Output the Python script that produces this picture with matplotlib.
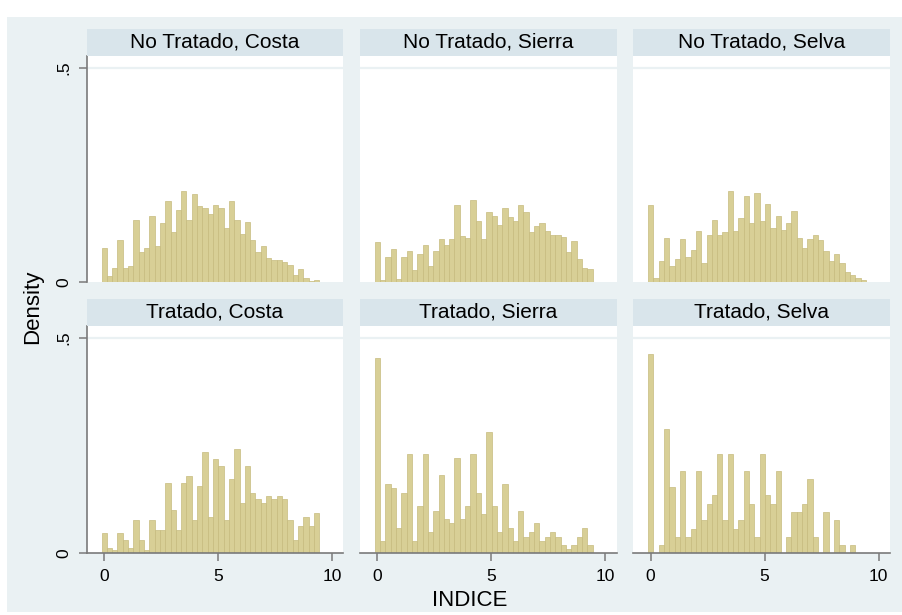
import numpy as np
import matplotlib
matplotlib.use("Agg")
import matplotlib.pyplot as plt
from matplotlib.patches import Rectangle

plt.rcParams['font.family'] = ['Liberation Sans', 'DejaVu Sans']

# histogram bins shared by all panels
bin_start = -0.11
bin_width = 0.233
n_bins = 41

titles = ["No Tratado, Costa", "No Tratado, Sierra", "No Tratado, Selva",
          "Tratado, Costa", "Tratado, Sierra", "Tratado, Selva"]

nt_costa = [0.080, 0.015, 0.034, 0.098, 0.033, 0.039, 0.144, 0.070, 0.080, 0.154,
            0.084, 0.138, 0.189, 0.118, 0.169, 0.212, 0.144, 0.206, 0.178, 0.174,
            0.160, 0.180, 0.174, 0.126, 0.190, 0.146, 0.112, 0.141, 0.098, 0.071,
            0.084, 0.057, 0.052, 0.051, 0.048, 0.041, 0.016, 0.031, 0.009, 0.003,
            0.005]
nt_sierra = [0.094, 0.006, 0.058, 0.077, 0.008, 0.060, 0.072, 0.028, 0.066, 0.088,
             0.038, 0.072, 0.101, 0.088, 0.100, 0.180, 0.108, 0.104, 0.192, 0.143,
             0.100, 0.164, 0.154, 0.134, 0.174, 0.151, 0.143, 0.181, 0.164, 0.118,
             0.132, 0.138, 0.120, 0.111, 0.111, 0.106, 0.071, 0.097, 0.054, 0.034,
             0.031]
nt_selva = [0.180, 0.011, 0.049, 0.104, 0.038, 0.055, 0.101, 0.060, 0.075, 0.120,
            0.045, 0.109, 0.144, 0.111, 0.116, 0.212, 0.120, 0.149, 0.200, 0.138,
            0.209, 0.143, 0.183, 0.126, 0.154, 0.121, 0.138, 0.167, 0.104, 0.080,
            0.100, 0.109, 0.098, 0.072, 0.049, 0.065, 0.045, 0.024, 0.017, 0.011,
            0.006]
t_costa = [0.045, 0.012, 0.006, 0.045, 0.029, 0.012, 0.077, 0.029, 0.006, 0.077,
           0.053, 0.053, 0.163, 0.100, 0.053, 0.163, 0.178, 0.077, 0.155, 0.233,
           0.084, 0.218, 0.202, 0.077, 0.171, 0.241, 0.116, 0.202, 0.139, 0.124,
           0.116, 0.131, 0.124, 0.131, 0.124, 0.077, 0.029, 0.061, 0.084, 0.061,
           0.092]
t_sierra = [0.452, 0.028, 0.159, 0.150, 0.058, 0.139, 0.229, 0.028, 0.109, 0.229,
            0.048, 0.098, 0.180, 0.078, 0.068, 0.220, 0.078, 0.109, 0.229, 0.139,
            0.089, 0.281, 0.109, 0.048, 0.159, 0.058, 0.028, 0.098, 0.037, 0.048,
            0.068, 0.028, 0.037, 0.048, 0.037, 0.018, 0.008, 0.018, 0.037, 0.058,
            0.018]
t_selva = [0.462, 0.000, 0.018, 0.287, 0.153, 0.037, 0.190, 0.037, 0.055, 0.190,
           0.075, 0.114, 0.134, 0.229, 0.075, 0.229, 0.055, 0.075, 0.190, 0.114,
           0.037, 0.229, 0.134, 0.114, 0.190, 0.000, 0.037, 0.094, 0.094, 0.114,
           0.172, 0.037, 0.000, 0.094, 0.000, 0.075, 0.018, 0.000, 0.018, 0.000,
           0.000]

panels = [nt_costa, nt_sierra, nt_selva, t_costa, t_sierra, t_selva]

W, H = 903, 615
bg = '#EAF1F3'
strip = '#D9E5EB'
bar_fill = '#D8CF96'
bar_edge = '#C6BB7E'
axis_col = '#7A7A7A'

fig = plt.figure(figsize=(W / 100, H / 100), dpi=100)
fig.patch.set_facecolor('white')
fig.add_artist(Rectangle((7 / W, 1 - 612 / H), (W - 7) / W, (612 - 17) / H,
                         transform=fig.transFigure, facecolor=bg,
                         edgecolor='none', zorder=-10))

col_left = [86.7, 360.0, 633.3]
col_w = 256.6
row_top = [56.0, 326.0]
row_bot = [282.3, 552.7]
strip_h = 27.0

edges = bin_start + bin_width * np.arange(n_bins)

for k, dens in enumerate(panels):
    r, c = divmod(k, 3)
    x0 = col_left[c]
    y0, y1 = row_top[r], row_bot[r]
    ax = fig.add_axes([x0 / W, 1 - y1 / H, col_w / W, (y1 - y0) / H])
    ax.set_facecolor('white')
    ax.axhline(0.5, color=bg, lw=1.6, zorder=0)
    ax.bar(edges, dens, width=bin_width, align='edge', color=bar_fill,
           edgecolor=bar_edge, linewidth=0.5, zorder=2)
    ax.set_xlim(-0.76, 10.5)
    ax.set_ylim(0, 0.527)
    for s in ax.spines.values():
        s.set_visible(False)

    ax.set_yticks([0, 0.5])
    ax.set_xticks([0, 5, 10])
    if c == 0:
        ax.spines['left'].set_visible(True)
        ax.spines['left'].set_color(axis_col)
        ax.spines['left'].set_linewidth(1.2)
        ax.set_yticklabels(['0', '.5'], rotation=90, va='center')
        ax.tick_params(axis='y', length=6, width=1.1, color=axis_col,
                       labelsize=12.5, pad=5)
    else:
        ax.tick_params(axis='y', left=False, labelleft=False)
    if r == 1:
        ax.spines['bottom'].set_visible(True)
        ax.spines['bottom'].set_color(axis_col)
        ax.spines['bottom'].set_linewidth(1.2)
        ax.tick_params(axis='x', length=6, width=1.1, color=axis_col,
                       labelsize=12.5, pad=6)
    else:
        ax.tick_params(axis='x', bottom=False, labelbottom=False)

    # subtitle strip above each panel
    fig.add_artist(Rectangle((x0 / W, 1 - y0 / H), col_w / W, strip_h / H,
                             transform=fig.transFigure, facecolor=strip,
                             edgecolor='none'))
    fig.text((x0 + col_w / 2) / W, 1 - (y0 - strip_h / 2) / H, titles[k],
             ha='center', va='center', fontsize=15, color='black')

fig.text(33 / W, 1 - 307 / H, 'Density', rotation=90, ha='center',
         va='center', fontsize=16)
fig.text(470 / W, 1 - 601 / H, 'INDICE', ha='center', va='center', fontsize=16)

fig.savefig('out.png', dpi=100)
